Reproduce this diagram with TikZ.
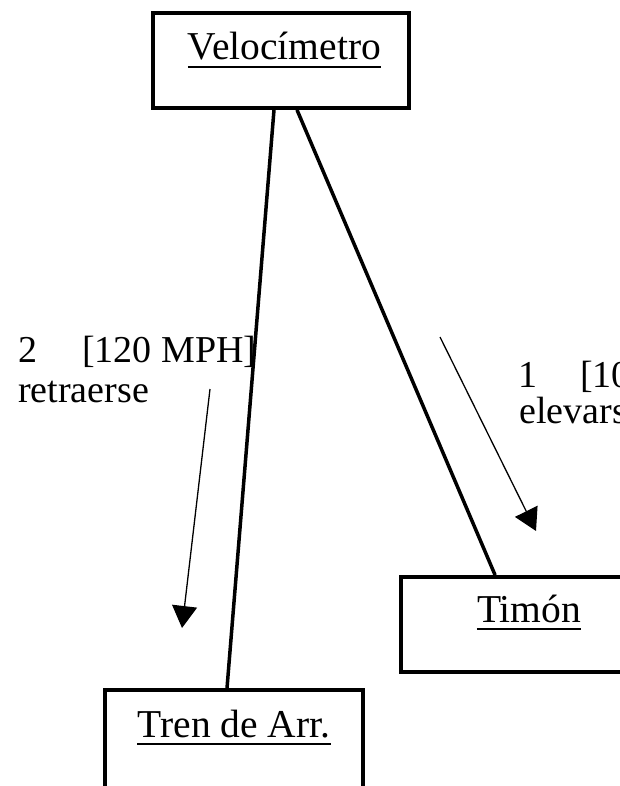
\documentclass[tikz,border=0pt]{standalone}
\usepackage{fontspec}
\setmainfont{Liberation Serif}
\usetikzlibrary{arrows.meta}
\tikzset{
  box/.style={draw, line width=3.8pt, rectangle, inner sep=0pt},
  boxtext/.style={inner sep=0pt, anchor=base, font=\fontsize{39.5}{44}\selectfont},
  lbl/.style={inner sep=0pt, anchor=base west, font=\fontsize{38}{42}\selectfont},
  uline/.style={line width=1.6pt},
  conn/.style={line width=3.5pt},
  msg/.style={line width=1.3pt, -{Triangle[width=25pt,length=22pt]}}
}
\begin{document}
\begin{tikzpicture}[x=1pt,y=-1pt]
\useasboundingbox (0,0) rectangle (620,786);
\clip (0,0) rectangle (620,786);
\fill[white] (0,0) rectangle (620,786);
% boxes
\node[box, minimum width=256pt, minimum height=95pt] (vel) at (281,60.5) {};
\node[box, minimum width=339pt, minimum height=95pt] (tim) at (570.5,624.5) {};
\node[box, minimum width=258pt, minimum height=110pt] (tren) at (234,745) {};
% box texts
\node[boxtext] (velt) at (284.5,60) {Velocímetro};
\node[boxtext] (timt) at (529,622) {Timón};
\node[boxtext] (trent) at (234,737) {Tren de Arr.};
\draw[uline] ([yshift=-7pt]velt.base west) -- ([yshift=-7pt]velt.base east);
\draw[uline] ([yshift=-7pt]timt.base west) -- ([yshift=-7pt]timt.base east);
\draw[uline] ([yshift=-7pt]trent.base west) -- ([yshift=-7pt]trent.base east);
% connectors
\draw[conn] ([xshift=-7pt]vel.south) -- ([xshift=-7pt]tren.north);
\draw[conn] ([xshift=16pt]vel.south) -- ([xshift=96pt]tim.north west);
% message labels
\node[lbl] (l2a) at (18,362) {2\hspace{45pt}[120 MPH]};
\node[lbl] (l2b) at (18,402) {retraerse};
\node[lbl] (l1a) at (518,387) {1\hspace{43pt}[100 MPH]};
\node[lbl] (l1b) at (519,423) {elevarse};
% message arrows
\coordinate (a2s) at (210,389);
\coordinate (a2e) at (182,628);
\coordinate (a1s) at (440,337);
\coordinate (a1e) at (536,531);
\draw[msg] (a2s) -- (a2e);
\draw[msg] (a1s) -- (a1e);
\end{tikzpicture}
\end{document}
